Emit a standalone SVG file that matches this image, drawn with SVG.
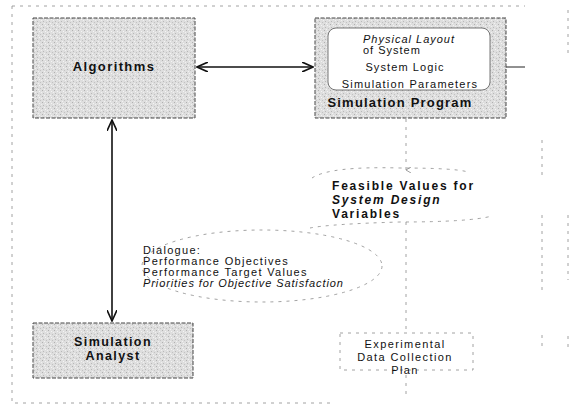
<svg xmlns="http://www.w3.org/2000/svg" width="577" height="412" viewBox="0 0 577 412">
<style>
.faint{fill:none;stroke:#8a8a8a;stroke-width:0.8;stroke-dasharray:3 5}
.box{fill:url(#grain);stroke:#444;stroke-width:1;stroke-dasharray:4 1.5}
.conn{fill:none;stroke:#111;stroke-width:1.6}
.b{font-family:"Liberation Sans",Arial,sans-serif;font-weight:bold;fill:#111}
.r{font-family:"Liberation Sans",Arial,sans-serif;fill:#111}
</style>
<defs>
<pattern id="grain" width="6" height="6" patternUnits="userSpaceOnUse">
<rect width="6" height="6" fill="#dedede"/>
<rect x="0" y="0" width="1" height="1" fill="#b0b0b0"/>
<rect x="3" y="1" width="1" height="1" fill="#f4f4f4"/>
<rect x="1" y="3" width="1" height="1" fill="#b8b8b8"/>
<rect x="4" y="4" width="1" height="1" fill="#c2c2c2"/>
<rect x="5" y="2" width="1" height="1" fill="#f0f0f0"/>
<rect x="2" y="5" width="1" height="1" fill="#f2f2f2"/>
</pattern>
<marker id="ah" viewBox="0 0 12 10" refX="11" refY="5" markerWidth="12" markerHeight="10" markerUnits="userSpaceOnUse" orient="auto-start-reverse">
<path d="M0,0 L11,5 L0,10" fill="none" stroke="#111" stroke-width="1.6"/>
</marker>
<marker id="sm" viewBox="0 0 6 6" refX="3" refY="5" markerWidth="6" markerHeight="6" markerUnits="userSpaceOnUse" orient="auto">
<path d="M0,0 L3,5 L6,0" fill="none" stroke="#888" stroke-width="0.8"/>
</marker>
</defs>
<rect width="577" height="412" fill="#fff"/>
<g id="frame">
<path class="faint" d="M12,6 H525"/>
<path class="faint" d="M12,6 V403 H330"/>
<path class="faint" d="M568,10 V56"/>
<path class="faint" d="M542,140 V175 M542,215 V290 M542,335 V350"/>
<path class="faint" d="M568,215 V280 M568,336 V348"/>
</g>
<g id="connectors">
<line class="conn" x1="197" y1="67" x2="313" y2="67" marker-start="url(#ah)" marker-end="url(#ah)"/>
<line class="conn" x1="112" y1="120" x2="112" y2="321" marker-start="url(#ah)" marker-end="url(#ah)"/>
<line x1="506" y1="67" x2="525" y2="67" stroke="#222" stroke-width="1"/>
<line class="faint" x1="406" y1="119" x2="406" y2="170" marker-end="url(#sm)"/>
<line class="faint" x1="406" y1="222" x2="406" y2="332"/>
<line class="faint" x1="406" y1="375" x2="406" y2="395"/>
</g>
<g id="algorithms">
<rect class="box" x="33" y="18" width="162" height="100"/>
<text class="b" x="114" y="71" font-size="13" letter-spacing="1.4" text-anchor="middle">Algorithms</text>
</g>
<g id="simulation-program">
<rect class="box" x="315" y="18" width="191" height="100"/>
<rect x="328" y="28" width="162" height="62" rx="8" fill="#fff" stroke="#666" stroke-width="0.9"/>
<text class="r" x="363" y="43" font-size="11" font-style="italic" letter-spacing="1">Physical Layout</text>
<text class="r" x="363" y="54" font-size="11" letter-spacing="1">of System</text>
<text class="r" x="405" y="71" font-size="11" letter-spacing="1.1" text-anchor="middle">System Logic</text>
<text class="r" x="410" y="88" font-size="11" letter-spacing="1.2" text-anchor="middle">Simulation Parameters</text>
<text class="b" x="400" y="107" font-size="13" letter-spacing="1.2" text-anchor="middle">Simulation Program</text>
</g>
<g id="feasible-values">
<path class="faint" d="M312,178 Q330,166 400,168 Q455,168 468,172"/>
<path class="faint" d="M310,228 Q330,224 400,222 Q470,222 492,216"/>
<text class="b" x="332" y="190" font-size="12" letter-spacing="1.8">Feasible Values for</text>
<text class="b" x="332" y="204" font-size="12" letter-spacing="1.8" font-style="italic">System Design</text>
<text class="b" x="332" y="218" font-size="12" letter-spacing="1.8">Variables</text>
</g>
<g id="dialogue">
<ellipse class="faint" cx="262" cy="266" rx="120" ry="36"/>
<text class="r" x="143" y="254" font-size="11" letter-spacing="1.3">Dialogue:</text>
<text class="r" x="143" y="265" font-size="11" letter-spacing="1.3">Performance Objectives</text>
<text class="r" x="143" y="276" font-size="11" letter-spacing="1.3">Performance Target Values</text>
<text class="r" x="143" y="287" font-size="11" letter-spacing="0.9" font-style="italic">Priorities for Objective Satisfaction</text>
</g>
<g id="simulation-analyst">
<rect class="box" x="33" y="323" width="160" height="55"/>
<text class="b" x="113" y="346" font-size="12.5" letter-spacing="1.4" text-anchor="middle">Simulation</text>
<text class="b" x="113" y="360" font-size="12.5" letter-spacing="1.4" text-anchor="middle">Analyst</text>
</g>
<g id="experimental-plan">
<rect class="faint" x="340" y="333" width="133" height="37"/>
<text class="r" x="405" y="348" font-size="11" letter-spacing="1.4" text-anchor="middle">Experimental</text>
<text class="r" x="405" y="361" font-size="11" letter-spacing="1.4" text-anchor="middle">Data Collection</text>
<text class="r" x="405" y="374" font-size="11" letter-spacing="1.4" text-anchor="middle">Plan</text>
</g>
</svg>
